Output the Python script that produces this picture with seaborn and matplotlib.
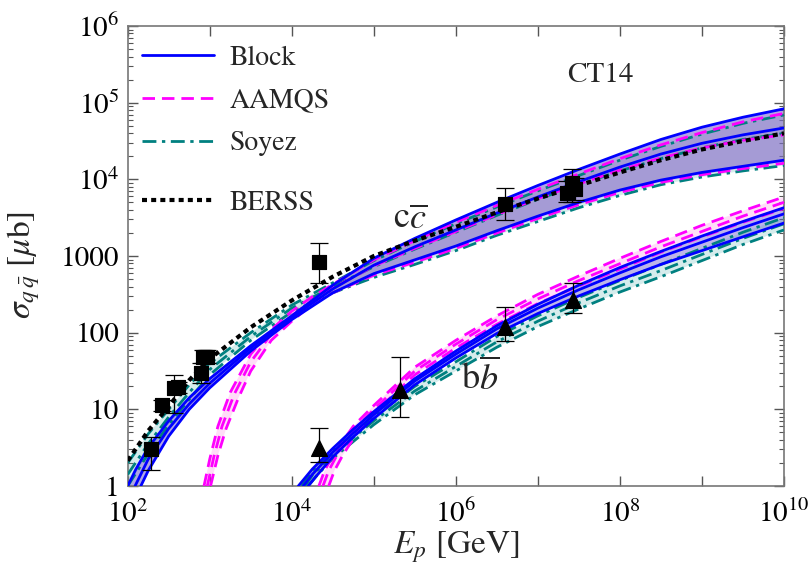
import numpy as np
import pandas as pd
import matplotlib
matplotlib.use("Agg")
import matplotlib.pyplot as plt
from matplotlib.lines import Line2D
import seaborn as sns

# ---------------- data (log10 E [GeV], log10 sigma [mub]) ----------------
# c-cbar : Block (blue)
cc_block_up_lx = [2.0, 2.1, 2.25, 2.5, 2.75, 3.0, 3.5, 4.0, 4.5, 5.0, 5.5, 6.0, 6.5, 7.0, 7.5, 8.0, 8.5, 9.0, 9.5, 10.0]
cc_block_up_ly = [0.0, 0.22, 0.50, 0.85, 1.15, 1.40, 1.83, 2.22, 2.62, 2.97, 3.23, 3.47, 3.70, 3.92, 4.13, 4.33, 4.52, 4.68, 4.81, 4.92]
cc_block_c_lx = [2.09, 2.25, 2.5, 2.75, 3.0, 3.5, 4.0, 4.5, 5.0, 5.5, 6.0, 6.5, 7.0, 7.5, 8.0, 8.5, 9.0, 9.5, 10.0]
cc_block_c_ly = [0.0, 0.35, 0.75, 1.07, 1.34, 1.80, 2.20, 2.57, 2.88, 3.12, 3.34, 3.56, 3.77, 3.97, 4.16, 4.33, 4.47, 4.58, 4.67]
cc_block_lo_lx = [2.16, 2.25, 2.5, 2.75, 3.0, 3.5, 4.0, 4.5, 5.0, 5.5, 6.0, 6.5, 7.0, 7.5, 8.0, 8.5, 9.0, 9.5, 10.0]
cc_block_lo_ly = [0.0, 0.2, 0.65, 1.0, 1.28, 1.76, 2.17, 2.52, 2.77, 2.95, 3.13, 3.33, 3.52, 3.70, 3.86, 3.99, 4.09, 4.17, 4.25]

# c-cbar : AAMQS (magenta)
cc_aamqs_up_lx = [2.93, 3.0, 3.1, 3.25, 3.5, 3.75, 4.0, 4.25, 4.5, 5.0, 5.5, 6.0, 6.5, 7.0, 7.5, 8.0, 8.5, 9.0, 9.5, 10.0]
cc_aamqs_up_ly = [0.0, 0.35, 0.78, 1.22, 1.72, 2.04, 2.28, 2.47, 2.63, 2.95, 3.20, 3.44, 3.66, 3.87, 4.07, 4.27, 4.45, 4.61, 4.75, 4.86]
cc_aamqs_c_lx = [2.97, 3.05, 3.15, 3.3, 3.5, 3.75, 4.0, 4.25, 4.5, 5.0, 5.5, 6.0, 6.5, 7.0, 7.5, 8.0, 8.5, 9.0, 9.5, 10.0]
cc_aamqs_c_ly = [0.0, 0.38, 0.78, 1.2, 1.62, 1.98, 2.22, 2.42, 2.58, 2.87, 3.10, 3.32, 3.54, 3.75, 3.94, 4.12, 4.28, 4.41, 4.51, 4.58]
cc_aamqs_lo_lx = [3.01, 3.1, 3.2, 3.35, 3.5, 3.75, 4.0, 4.25, 4.5, 5.0, 5.5, 6.0, 6.5, 7.0, 7.5, 8.0, 8.5, 9.0, 9.5, 10.0]
cc_aamqs_lo_ly = [0.0, 0.4, 0.75, 1.15, 1.5, 1.9, 2.15, 2.37, 2.52, 2.75, 2.92, 3.10, 3.30, 3.49, 3.67, 3.83, 3.96, 4.06, 4.14, 4.21]

# c-cbar : Soyez (teal)
cc_soy_lx = [2.0, 2.25, 2.5, 2.75, 3.0, 3.5, 4.0, 4.5, 5.0, 5.5, 6.0, 6.5, 7.0, 7.5, 8.0, 8.5, 9.0, 9.5, 10.0]
cc_soy_up_ly = [0.30, 0.68, 1.0, 1.32, 1.60, 2.0, 2.36, 2.65, 2.94, 3.19, 3.42, 3.64, 3.85, 4.05, 4.25, 4.43, 4.59, 4.73, 4.84]
cc_soy_c_ly = [0.15, 0.55, 0.90, 1.22, 1.52, 1.95, 2.32, 2.60, 2.86, 3.09, 3.31, 3.53, 3.74, 3.93, 4.11, 4.27, 4.41, 4.52, 4.60]
cc_soy_lo_ly = [0.0, 0.42, 0.80, 1.13, 1.45, 1.90, 2.27, 2.52, 2.72, 2.89, 3.07, 3.27, 3.45, 3.63, 3.79, 3.93, 4.03, 4.11, 4.18]

# c-cbar : BERSS (black dotted)
cc_berss_lx = [2.0, 2.25, 2.5, 2.75, 3.0, 3.5, 4.0, 4.5, 5.0, 5.5, 6.0, 6.5, 7.0, 7.5, 8.0, 8.5, 9.0, 9.5, 10.0]
cc_berss_ly = [0.33, 0.72, 1.04, 1.38, 1.66, 2.07, 2.42, 2.73, 3.0, 3.20, 3.38, 3.57, 3.75, 3.92, 4.09, 4.25, 4.39, 4.50, 4.60]

# b-bbar : Block
bb_block_up_lx = [4.08, 4.25, 4.5, 4.75, 5.0, 5.5, 6.0, 6.5, 7.0, 7.5, 8.0, 8.5, 9.0, 9.5, 10.0]
bb_block_up_ly = [0.0, 0.22, 0.49, 0.74, 0.97, 1.40, 1.76, 2.09, 2.37, 2.62, 2.85, 3.06, 3.26, 3.45, 3.63]
bb_block_c_lx = [4.14, 4.25, 4.5, 4.75, 5.0, 5.5, 6.0, 6.5, 7.0, 7.5, 8.0, 8.5, 9.0, 9.5, 10.0]
bb_block_c_ly = [0.0, 0.15, 0.44, 0.69, 0.93, 1.37, 1.72, 2.05, 2.32, 2.56, 2.78, 2.99, 3.18, 3.37, 3.55]
bb_block_lo_lx = [4.20, 4.3, 4.5, 4.75, 5.0, 5.5, 6.0, 6.5, 7.0, 7.5, 8.0, 8.5, 9.0, 9.5, 10.0]
bb_block_lo_ly = [0.0, 0.13, 0.38, 0.64, 0.88, 1.32, 1.67, 1.99, 2.25, 2.48, 2.69, 2.89, 3.07, 3.25, 3.43]

# b-bbar : AAMQS
bb_aamqs_up_lx = [4.33, 4.4, 4.5, 4.75, 5.0, 5.5, 6.0, 6.5, 7.0, 7.5, 8.0, 8.5, 9.0, 9.5, 10.0]
bb_aamqs_up_ly = [0.0, 0.2, 0.4, 0.78, 1.05, 1.55, 1.90, 2.22, 2.50, 2.74, 2.97, 3.19, 3.40, 3.59, 3.77]
bb_aamqs_c_lx = [4.38, 4.45, 4.55, 4.75, 5.0, 5.5, 6.0, 6.5, 7.0, 7.5, 8.0, 8.5, 9.0, 9.5, 10.0]
bb_aamqs_c_ly = [0.0, 0.2, 0.4, 0.72, 1.0, 1.50, 1.85, 2.17, 2.44, 2.68, 2.90, 3.12, 3.32, 3.52, 3.70]
bb_aamqs_lo_lx = [4.45, 4.52, 4.62, 4.8, 5.0, 5.5, 6.0, 6.5, 7.0, 7.5, 8.0, 8.5, 9.0, 9.5, 10.0]
bb_aamqs_lo_ly = [0.0, 0.2, 0.4, 0.7, 0.95, 1.45, 1.80, 2.11, 2.38, 2.61, 2.83, 3.05, 3.25, 3.44, 3.62]

# b-bbar : Soyez
bb_soy_up_lx = [4.12, 4.25, 4.5, 4.75, 5.0, 5.5, 6.0, 6.5, 7.0, 7.5, 8.0, 8.5, 9.0, 9.5, 10.0]
bb_soy_up_ly = [0.0, 0.2, 0.46, 0.68, 0.90, 1.30, 1.62, 1.95, 2.22, 2.46, 2.68, 2.89, 3.10, 3.31, 3.50]
bb_soy_c_lx = [4.16, 4.25, 4.5, 4.75, 5.0, 5.5, 6.0, 6.5, 7.0, 7.5, 8.0, 8.5, 9.0, 9.5, 10.0]
bb_soy_c_ly = [0.0, 0.14, 0.41, 0.63, 0.85, 1.24, 1.56, 1.88, 2.15, 2.39, 2.61, 2.81, 3.02, 3.23, 3.42]
bb_soy_lo_lx = [4.20, 4.3, 4.5, 4.75, 5.0, 5.5, 6.0, 6.5, 7.0, 7.5, 8.0, 8.5, 9.0, 9.5, 10.0]
bb_soy_lo_ly = [0.0, 0.13, 0.36, 0.58, 0.80, 1.19, 1.50, 1.81, 2.08, 2.31, 2.53, 2.73, 2.94, 3.15, 3.34]

# measurements
cc_E = [195, 262, 370, 410, 790, 830, 930, 21500, 4.0e6, 2.28e7, 2.62e7, 2.85e7]
cc_sig = [3.0, 11.4, 19.0, 19.5, 30.0, 48.0, 48.0, 830, 4800, 6600, 8900, 7450]
cc_err_lo = [1.4, 2.0, 10.0, 3.0, 8.0, 8.0, 8.0, 380, 1850, 1600, 3900, 2000]
cc_err_hi = [1.4, 2.0, 9.0, 3.0, 10.0, 11.0, 11.0, 650, 2900, 3000, 4600, 3000]

bb_E = [2.15e4, 2.1e5, 4.0e6, 2.7e7]
bb_sig = [3.1, 17.8, 118, 266]
bb_err_lo = [1.05, 9.9, 40, 86]
bb_err_hi = [2.6, 30, 97, 179]

legend_labels = ["Block", "AAMQS", "Soyez", "BERSS"]

# ---------------- styling ----------------
sns.set_style("ticks")
plt.rcParams["font.family"] = ["STIXGeneral", "Liberation Serif", "DejaVu Serif"]
plt.rcParams["mathtext.fontset"] = "stix"

BLUE = "#0000ff"
MAG = "#ff00ff"
TEAL = "#008080"

ls_block = "-"
ls_aamqs = (0, (4.5, 2.5))
ls_soy = (0, (5, 2, 1.2, 2))
ls_berss = (0, (1.2, 1.0))

fig = plt.figure(figsize=(8.11, 5.72), dpi=100)
ax = fig.add_axes([127.7 / 811, 1 - 486 / 572, (784 - 127.7) / 811, (486 - 26) / 572])
ax.set_xscale("log")
ax.set_yscale("log")


def pw(v):
    return [10.0 ** t for t in v]


def band(ax, ulx, uly, llx, lly, color, alpha):
    xs = pw(ulx) + pw(llx)[::-1]
    ys = pw(uly) + pw(lly)[::-1]
    ax.fill(xs, ys, color=color, alpha=alpha, lw=0, zorder=1)


def line(ax, lx, ly, color, ls, lw=2.0, z=3):
    df = pd.DataFrame({"E": pw(lx), "s": pw(ly)})
    sns.lineplot(data=df, x="E", y="s", ax=ax, color=color, linestyle=ls,
                 linewidth=lw, sort=False, estimator=None, zorder=z, legend=False)


# fills
band(ax, cc_block_up_lx, cc_block_up_ly, cc_block_lo_lx, cc_block_lo_ly, "#5a46c8", 0.48)
band(ax, cc_aamqs_up_lx, cc_aamqs_up_ly, cc_aamqs_lo_lx, cc_aamqs_lo_ly, "#ff66dd", 0.22)
band(ax, cc_soy_lx, cc_soy_up_ly, cc_soy_lx, cc_soy_lo_ly, "#44aaaa", 0.22)
band(ax, bb_block_up_lx, bb_block_up_ly, bb_block_lo_lx, bb_block_lo_ly, "#5a46c8", 0.40)
band(ax, bb_aamqs_up_lx, bb_aamqs_up_ly, bb_aamqs_lo_lx, bb_aamqs_lo_ly, "#ff66dd", 0.22)
band(ax, bb_soy_up_lx, bb_soy_up_ly, bb_soy_lo_lx, bb_soy_lo_ly, "#44aaaa", 0.22)

# lines
for lx, ly in [(cc_soy_lx, cc_soy_up_ly), (cc_soy_lx, cc_soy_c_ly), (cc_soy_lx, cc_soy_lo_ly),
               (bb_soy_up_lx, bb_soy_up_ly), (bb_soy_c_lx, bb_soy_c_ly), (bb_soy_lo_lx, bb_soy_lo_ly)]:
    line(ax, lx, ly, TEAL, ls_soy, 2.0, 3)
for lx, ly in [(cc_aamqs_up_lx, cc_aamqs_up_ly), (cc_aamqs_c_lx, cc_aamqs_c_ly), (cc_aamqs_lo_lx, cc_aamqs_lo_ly),
               (bb_aamqs_up_lx, bb_aamqs_up_ly), (bb_aamqs_c_lx, bb_aamqs_c_ly), (bb_aamqs_lo_lx, bb_aamqs_lo_ly)]:
    line(ax, lx, ly, MAG, ls_aamqs, 2.0, 3)
for lx, ly in [(cc_block_up_lx, cc_block_up_ly), (cc_block_c_lx, cc_block_c_ly), (cc_block_lo_lx, cc_block_lo_ly),
               (bb_block_up_lx, bb_block_up_ly), (bb_block_c_lx, bb_block_c_ly), (bb_block_lo_lx, bb_block_lo_ly)]:
    line(ax, lx, ly, BLUE, ls_block, 2.0, 4)
line(ax, cc_berss_lx, cc_berss_ly, "black", ls_berss, 3.0, 5)

# data points
ax.errorbar(cc_E, cc_sig, yerr=[cc_err_lo, cc_err_hi], fmt="none", ecolor="black",
            elinewidth=0.9, capsize=6.5, capthick=0.9, zorder=6)
sns.scatterplot(x=cc_E, y=cc_sig, ax=ax, marker="s", s=110, color="black",
                edgecolor="black", zorder=7, legend=False)
ax.errorbar(bb_E, bb_sig, yerr=[bb_err_lo, bb_err_hi], fmt="none", ecolor="black",
            elinewidth=0.9, capsize=6.5, capthick=0.9, zorder=6)
sns.scatterplot(x=bb_E, y=bb_sig, ax=ax, marker="^", s=130, color="black",
                edgecolor="black", zorder=7, legend=False)

# axes
ax.set_xlim(1e2, 1e10)
ax.set_ylim(1, 1e6)
xt = [10.0 ** k for k in range(2, 11)]
ax.set_xticks(xt)
ax.set_xticklabels([r"$10^{%d}$" % k if k % 2 == 0 else "" for k in range(2, 11)])
ax.xaxis.set_minor_locator(matplotlib.ticker.NullLocator())
yt = [10.0 ** k for k in range(0, 7)]
ax.set_yticks(yt)
ax.set_yticklabels(["1", "10", "100", "1000", r"$10^{4}$", r"$10^{5}$", r"$10^{6}$"])
ax.yaxis.set_minor_locator(matplotlib.ticker.LogLocator(base=10, subs=np.arange(2, 10), numticks=20))
ax.yaxis.set_minor_formatter(matplotlib.ticker.NullFormatter())
ax.tick_params(which="both", direction="in", top=True, right=True, labelsize=21, colors="#555555",
               labelcolor="black")
ax.tick_params(which="major", length=7, width=1)
ax.tick_params(which="minor", length=3.5, width=0.8)
ax.tick_params(axis="x", pad=10)
ax.tick_params(axis="y", pad=6)
for sp in ax.spines.values():
    sp.set_color("#777777")
    sp.set_linewidth(1.2)

ax.set_xlabel(r"$E_p$ [GeV]", fontsize=24)
ax.set_ylabel(r"$\sigma_{q\,\bar{q}}$ [$\mu$b]", fontsize=24)
ax.xaxis.set_label_coords(0.5, -0.095)
ax.yaxis.set_label_coords(-0.13, 0.48)

ax.text(10 ** 7.76, 10 ** 5.36, "CT14", fontsize=21, ha="center", va="center")
ax.text(10 ** 5.44, 10 ** 3.47, r"c$\overline{c}$", fontsize=26, ha="center", va="center")
ax.text(10 ** 6.30, 10 ** 1.41, r"b$\overline{b}$", fontsize=26, ha="center", va="center")

# legends
h1 = [Line2D([], [], color=BLUE, lw=2, ls=ls_block),
      Line2D([], [], color=MAG, lw=2, ls=ls_aamqs),
      Line2D([], [], color=TEAL, lw=2, ls=ls_soy)]
leg1 = ax.legend(h1, legend_labels[:3], loc="upper left", frameon=False, fontsize=20,
                 handlelength=2.6, labelspacing=0.62, handletextpad=0.55,
                 bbox_to_anchor=(-0.008, 1.0), borderaxespad=0.3)
ax.add_artist(leg1)
h2 = [Line2D([], [], color="black", lw=3, ls=ls_berss)]
ax.legend(h2, legend_labels[3:], loc="upper left", frameon=False, fontsize=20,
          handlelength=2.6, handletextpad=0.55, bbox_to_anchor=(-0.008, 0.685), borderaxespad=0.3)

fig.savefig("out.png", dpi=100)
